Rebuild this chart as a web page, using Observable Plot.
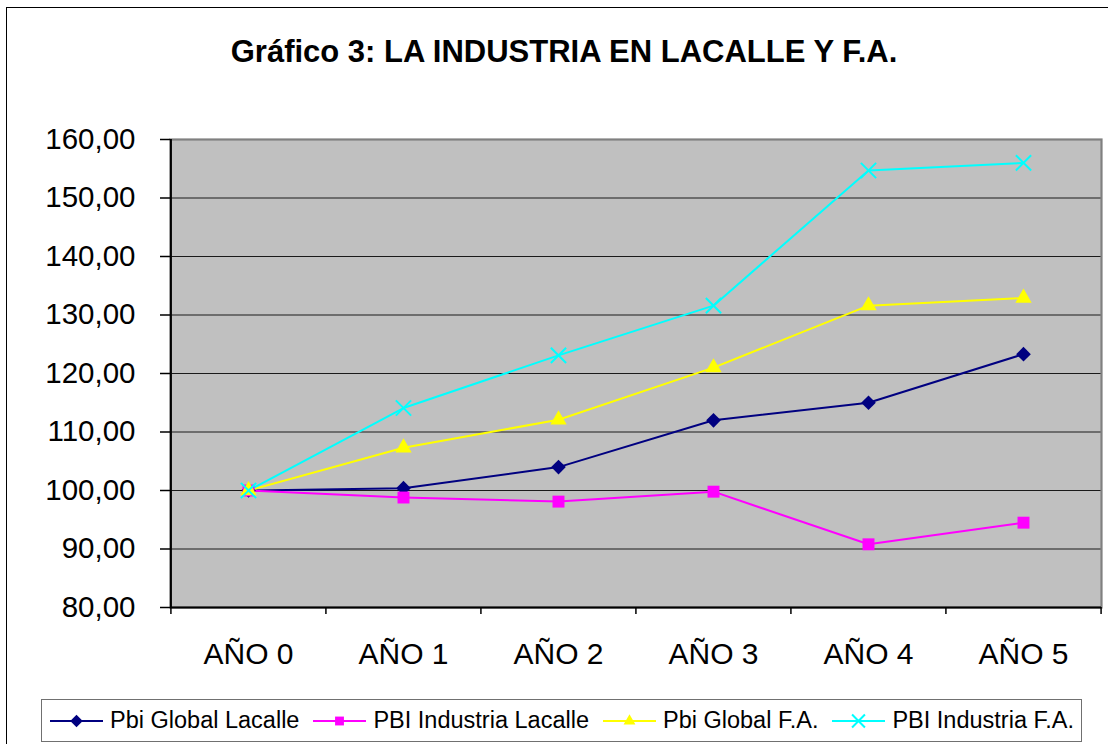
<!DOCTYPE html>
<html>
<head>
<meta charset="utf-8">
<script src="https://cdn.jsdelivr.net/npm/d3@7"></script>
<script src="https://cdn.jsdelivr.net/npm/@observablehq/plot@0.6"></script>
<style>
  html, body { margin: 0; padding: 0; background: #fff; overflow: hidden; }
  #wrap { position: relative; width: 1108px; height: 744px; font-family: "Liberation Sans", Arial, sans-serif; overflow: hidden; }
  #frame { position: absolute; left: 6px; top: 7px; width: 1120px; height: 800px; border: 1.5px solid #000; box-sizing: border-box; }
  #title { position: absolute; left: 20px; top: 36px; width: 1088px; text-align: center; font-size: 31px; line-height: 31px; font-weight: bold; color: #000; white-space: nowrap; }
  #chart { position: absolute; left: 0; top: 100px; }
  #legend { position: absolute; left: 41px; top: 699px; width: 1041px; height: 43px; border: 1.5px solid #707070; box-sizing: border-box; background: #fff;
            display: flex; align-items: center; padding-left: 8px; font-size: 23.5px; color: #000; white-space: nowrap; }
  .item { display: flex; align-items: center; margin-right: 14px; flex: 0 0 auto; white-space: nowrap; }
  .item svg { margin-right: 7px; flex: 0 0 auto; }
</style>
</head>
<body>
<div id="wrap">
  <div id="frame"></div>
  <div id="title">Gráfico 3: LA INDUSTRIA EN LACALLE Y F.A.</div>
  <div id="chart"></div>
  <div id="legend"></div>
</div>
<script>
// ---- data ----
const categories = ["AÑO 0", "AÑO 1", "AÑO 2", "AÑO 3", "AÑO 4", "AÑO 5"];
const seriesNames = ["Pbi Global Lacalle", "PBI Industria Lacalle", "Pbi Global F.A.", "PBI Industria F.A."];
const pbiGlobalLacalle    = [100, 100.4, 104.0, 112.0, 115.0, 123.3];
const pbiIndustriaLacalle = [100, 98.8, 98.1, 99.8, 90.8, 94.5];
const pbiGlobalFA         = [100, 107.3, 112.1, 121.0, 131.6, 132.9];
const pbiIndustriaFA      = [100, 114.1, 123.1, 131.6, 154.7, 156.0];
const yTicks = [80, 90, 100, 110, 120, 130, 140, 150, 160];

// ---- styles ----
const colors  = ["#000080", "#FF00FF", "#FFFF00", "#00FFFF"];
const symbols = ["diamond2", "square2", "triangle2", "times"];
const radii   = [6.6, 7.6, 7.8, 7];
const d3Symbols = [d3.symbolDiamond2, d3.symbolSquare2, d3.symbolTriangle2, d3.symbolTimes];

const valuesBySeries = [pbiGlobalLacalle, pbiIndustriaLacalle, pbiGlobalFA, pbiIndustriaFA];
const rows = seriesNames.map((name, s) => valuesBySeries[s].map((v, i) => ({serie: name, cat: categories[i], value: v})));

const width = 1108, height = 577;
const marginLeft = 170, marginRight = 7, marginTop = 39, marginBottom = 70;
const half = (width - marginLeft - marginRight) / categories.length / 2;
const fmt = d => d.toFixed(2).replace(".", ",");

const marks = [
  Plot.frame({fill: "#C0C0C0", stroke: null}),
  Plot.ruleY(yTicks, {stroke: "#1a1a1a", strokeWidth: 1.2}),
  Plot.frame({stroke: "#808080", strokeWidth: 2.2}),
  Plot.ruleY([80], {stroke: "#000", strokeWidth: 2}),
  Plot.ruleX([categories[0]], {x: d => d, dx: -half, stroke: "#000", strokeWidth: 2}),
  Plot.ruleX(categories, {x: d => d, y1: 80, y2: 80, insetBottom: -7, dx: -half, stroke: "#000", strokeWidth: 1.5}),
  Plot.ruleX([categories[categories.length - 1]], {x: d => d, y1: 80, y2: 80, insetBottom: -7, dx: half, stroke: "#000", strokeWidth: 1.5}),
  Plot.axisY({ticks: yTicks, tickSize: 10, tickPadding: 25, tickFormat: fmt, fontSize: 29.5, stroke: "#000", strokeWidth: 1.5, strokeOpacity: 1}),
  Plot.axisX({tickSize: 0, tickPadding: 35, fontSize: 30})
];
rows.forEach((r, s) => {
  marks.push(Plot.line(r, {x: "cat", y: "value", stroke: colors[s], strokeWidth: 2}));
});
rows.forEach((r, s) => {
  if (symbols[s] === "times") {
    marks.push(Plot.dot(r, {x: "cat", y: "value", symbol: symbols[s], r: radii[s], stroke: colors[s], strokeWidth: 2, fill: "none"}));
  } else {
    marks.push(Plot.dot(r, {x: "cat", y: "value", symbol: symbols[s], r: radii[s], fill: colors[s], stroke: "none"}));
  }
});

const chart = Plot.plot({
  width, height, marginLeft, marginRight, marginTop, marginBottom,
  style: {fontFamily: "Liberation Sans, Arial, sans-serif", color: "#000", background: "transparent", overflow: "visible"},
  x: {type: "point", domain: categories, padding: 0.5, label: null},
  y: {domain: [80, 160], label: null},
  marks
});
document.getElementById("chart").appendChild(chart);

// ---- legend ----
const legend = d3.select("#legend");
seriesNames.forEach((name, s) => {
  const item = legend.append("div").attr("class", "item");
  const svg = item.append("svg").attr("width", 53).attr("height", 22);
  svg.append("line").attr("x1", 0).attr("x2", 53).attr("y1", 11).attr("y2", 11).attr("stroke", colors[s]).attr("stroke-width", 2);
  const path = d3.symbol(d3Symbols[s], s === 3 ? 110 : 100)();
  const p = svg.append("path").attr("d", path).attr("transform", "translate(26.5,11)");
  if (s === 3) p.attr("fill", "none").attr("stroke", colors[s]).attr("stroke-width", 2);
  else p.attr("fill", colors[s]);
  item.append("span").text(name);
});
</script>
</body>
</html>
